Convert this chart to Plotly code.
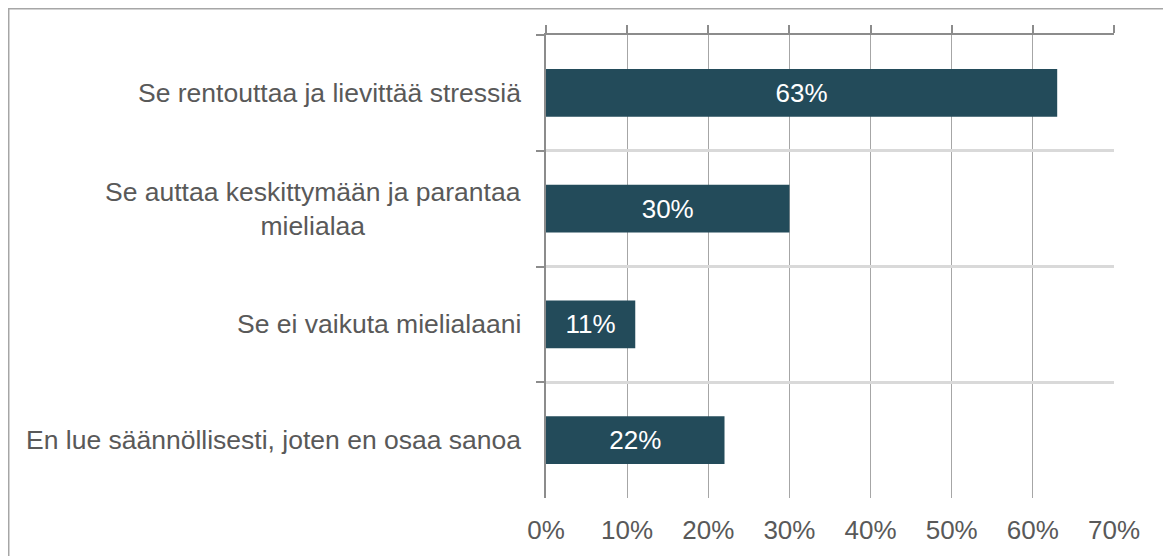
import plotly.graph_objects as go

categories = [
    "Se rentouttaa ja lievittää stressiä",
    "Se auttaa keskittymään ja parantaa<br>mielialaa",
    "Se ei vaikuta mielialaani",
    "En lue säännöllisesti, joten en osaa sanoa",
]
values = [63, 30, 11, 22]
tick_values = [0, 10, 20, 30, 40, 50, 60, 70]
tick_labels = ["0%", "10%", "20%", "30%", "40%", "50%", "60%", "70%"]

TEXT = "#595959"
BAR = "#234B5A"
AXIS = "#8C8C8C"
FONT = "Liberation Sans, Arial, sans-serif"

fig = go.Figure()
fig.add_trace(go.Bar(
    x=values, y=categories, orientation="h",
    marker=dict(color=BAR, line=dict(width=0)),
    width=0.414,
    text=[f"{v}%" for v in values],
    textposition="inside", insidetextanchor="middle",
    textfont=dict(color="white", size=26, family=FONT),
    constraintext="none", textangle=0,
    hoverinfo="skip", showlegend=False,
))
# dummy trace to render the top value-axis line with tick marks
fig.add_trace(go.Scatter(x=[None], y=[None], xaxis="x2", yaxis="y",
                         showlegend=False, hoverinfo="skip"))

for c in categories:
    fig.add_annotation(
        x=0, xref="paper", y=c, yref="y", xanchor="right", yanchor="middle",
        xshift=-23, align="center", showarrow=False, text=c,
        font=dict(size=26.5, color=TEXT, family=FONT),
    )

fig.add_shape(type="rect", xref="paper", yref="paper",
              x0=-0.9459, x1=1.0951, y0=-0.16, y1=1.0567,
              line=dict(color="#A6A6A6", width=1.5), layer="below")

fig.update_layout(
    width=1171, height=556,
    margin=dict(l=538, r=65, t=27, b=66),
    paper_bgcolor="white", plot_bgcolor="white",
    font=dict(family=FONT, color=TEXT),
    xaxis=dict(
        range=[0, 70], tickvals=tick_values, ticktext=tick_labels,
        showgrid=True, gridcolor="#A6A6A6", gridwidth=1.2,
        zeroline=False, showline=False, ticks="",
        ticklabelstandoff=14,
        tickfont=dict(size=26, color=TEXT, family=FONT),
    ),
    xaxis2=dict(
        overlaying="x", side="top", range=[0, 70], tickvals=tick_values,
        showgrid=False, zeroline=False, showline=True, linecolor=AXIS,
        linewidth=1.5, ticks="outside", ticklen=8, tickcolor=AXIS,
        tickwidth=1.5, showticklabels=False,
    ),
    yaxis=dict(
        type="category", categoryorder="array", categoryarray=categories,
        autorange="reversed", tickson="boundaries",
        showgrid=True, gridcolor="#D9D9D9", gridwidth=2.5,
        ticks="outside", ticklen=8, tickcolor=AXIS, tickwidth=1.5,
        showticklabels=False, showline=True, linecolor=AXIS, linewidth=1.5,
        zeroline=False,
    ),
)

fig.write_html("out.html")
